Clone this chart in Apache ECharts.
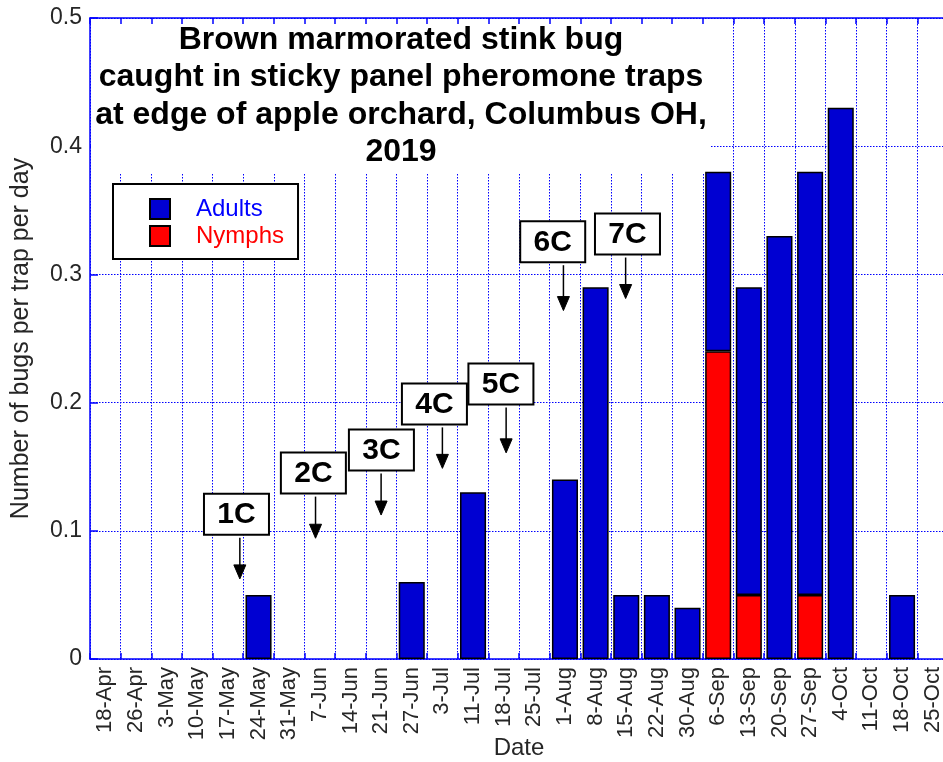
<!DOCTYPE html>
<html>
<head>
<meta charset="utf-8">
<script src="https://cdn.jsdelivr.net/npm/echarts@6/dist/echarts.min.js"></script>
<style>
html,body{margin:0;padding:0;background:#fff;}
#chart{width:943px;height:762px;}
</style>
</head>
<body>
<div id="chart"></div>
<script>
// ---- data ----
const categories = ['18-Apr','26-Apr','3-May','10-May','17-May','24-May','31-May','7-Jun','14-Jun','21-Jun','27-Jun','3-Jul','11-Jul','18-Jul','25-Jul','1-Aug','8-Aug','15-Aug','22-Aug','30-Aug','6-Sep','13-Sep','20-Sep','27-Sep','4-Oct','11-Oct','18-Oct','25-Oct'];
const adultValues = [0,0,0,0,0,0.05,0,0,0,0,0.06,0,0.13,0,0,0.14,0.29,0.05,0.05,0.04,0.14,0.24,0.33,0.33,0.43,0,0.05,0];
const nymphValues = [0,0,0,0,0,0,0,0,0,0,0,0,0,0,0,0,0,0,0,0,0.24,0.05,0,0.05,0,0,0,0];
const yTicks = [0, 0.1, 0.2, 0.3, 0.4, 0.5];

// annotation boxes ("1C".."7C") and arrows, positions in data units (x = fractional category index)
const annotLabels = ['1C','2C','3C','4C','5C','6C','7C'];
const annotBoxX   = [4.28, 6.79, 9.01, 10.74, 12.91, 14.60, 17.04];
const annotBoxY   = [0.113, 0.145, 0.163, 0.199, 0.2145, 0.3255, 0.3315];
const annotArrowX = [4.39, 6.86, 9.00, 11.00, 13.08, 14.95, 16.98];
const annotTipY   = [0.0625, 0.0942, 0.1123, 0.1487, 0.1608, 0.2718, 0.2812];

const titleLines = ['Brown marmorated stink bug','caught in sticky panel pheromone traps','at edge of apple orchard, Columbus OH,','2019'];

const FONT = '"Liberation Sans", Arial, Helvetica, sans-serif';
const AXIS_BLUE = '#0000ff';
const BAR_BLUE = '#0000d2';
const TEXT_GRAY = '#262626';

const toBar = arr => arr.map(v => v === 0 ? '-' : v);

const chart = echarts.init(document.getElementById('chart'), null, {renderer: 'canvas'});

const option = {
  animation: false,
  backgroundColor: '#fff',
  textStyle: {fontFamily: FONT},
  title: {
    text: titleLines.join('\n'),
    left: 401,
    top: 21,
    textAlign: 'center',
    padding: 0,
    textStyle: {fontFamily: FONT, fontSize: 32, fontWeight: 'bold', color: '#000', lineHeight: 37.5}
  },
  graphic: [{
    type: 'rect',
    shape: {x: 91, y: 19, width: 619, height: 154},
    style: {fill: '#fff'},
    z: 1,
    silent: true
  }],
  legend: {
    data: [
      {name: 'Adults', textStyle: {color: '#0000ff'}},
      {name: 'Nymphs', textStyle: {color: '#ff0000'}}
    ],
    orient: 'vertical',
    left: 113,
    top: 184,
    icon: 'rect',
    itemWidth: 20,
    itemHeight: 20,
    itemGap: 3,
    padding: [13, 14, 11, 36],
    borderColor: '#000',
    borderWidth: 2,
    backgroundColor: '#fff',
    selectedMode: false,
    textStyle: {fontFamily: FONT, fontSize: 24, padding: [0, 0, 0, 21], lineHeight: 24}
  },
  grid: {left: 90, top: 18, width: 858, height: 641, containLabel: false, outerBoundsMode: 'none'},
  xAxis: [
    {
      type: 'category',
      data: categories,
      position: 'bottom',
      name: 'Date',
      nameLocation: 'middle',
      nameGap: 77,
      nameMoveOverlap: false,
      nameTextStyle: {fontFamily: FONT, fontSize: 24, color: TEXT_GRAY},
      axisLine: {lineStyle: {color: AXIS_BLUE, width: 1.5}},
      axisTick: {show: true, inside: true, length: 6, lineStyle: {color: AXIS_BLUE, width: 1.5}},
      axisLabel: {interval: 0, rotate: 90, margin: 8, fontFamily: FONT, fontSize: 22, color: TEXT_GRAY},
      splitLine: {show: true, interval: 0, lineStyle: {color: AXIS_BLUE, width: 1, type: [1.5, 1.5]}}
    },
    {
      type: 'category',
      data: categories,
      position: 'top',
      axisLine: {lineStyle: {color: AXIS_BLUE, width: 1.5}},
      axisTick: {show: true, inside: true, length: 6, interval: 0, lineStyle: {color: AXIS_BLUE, width: 1.5}},
      axisLabel: {show: false},
      splitLine: {show: false},
      z: 3
    },
    {
      type: 'value',
      min: -0.5,
      max: categories.length - 0.5,
      show: false
    }
  ],
  yAxis: [{
    type: 'value',
    min: yTicks[0],
    max: yTicks[yTicks.length - 1],
    interval: 0.1,
    name: 'Number of bugs per trap per day',
    nameLocation: 'middle',
    nameGap: 56,
    nameMoveOverlap: false,
    nameTextStyle: {fontFamily: FONT, fontSize: 25, color: TEXT_GRAY},
    axisLine: {show: true, onZero: false, lineStyle: {color: AXIS_BLUE, width: 1.5}},
    axisTick: {show: true, inside: true, length: 8, lineStyle: {color: AXIS_BLUE, width: 1.5}},
    axisLabel: {margin: 8, fontFamily: FONT, fontSize: 23, color: TEXT_GRAY},
    splitLine: {show: true, lineStyle: {color: AXIS_BLUE, width: 1, type: [1.5, 1.5]}}
  }],
  series: [
    {
      name: 'Nymphs',
      type: 'bar',
      stack: 'total',
      xAxisIndex: 0,
      barWidth: '85%',
      data: toBar(nymphValues),
      itemStyle: {color: '#ff0000', borderColor: '#000', borderWidth: 1.5},
      z: 2
    },
    {
      name: 'Adults',
      type: 'bar',
      stack: 'total',
      xAxisIndex: 0,
      barWidth: '85%',
      data: toBar(adultValues),
      itemStyle: {color: BAR_BLUE, borderColor: '#000', borderWidth: 1.5},
      z: 2
    },
    {
      name: 'annotations',
      type: 'custom',
      xAxisIndex: 2,
      yAxisIndex: 0,
      silent: true,
      clip: false,
      z: 10,
      data: annotLabels.map((l, i) => [annotBoxX[i], annotBoxY[i], annotArrowX[i], annotTipY[i], i]),
      renderItem: function (params, api) {
        const idx = api.value(4);
        const b = api.coord([api.value(0), api.value(1)]);
        const t = api.coord([api.value(2), api.value(3)]);
        const w = 65, h = 41;
        const startY = b[1] + h / 2 + 3;
        const ah = 14, aw = 6;
        return {
          type: 'group',
          children: [
            {type: 'rect', shape: {x: b[0] - w / 2, y: b[1] - h / 2, width: w, height: h},
             style: {fill: '#fff', stroke: '#000', lineWidth: 2}},
            {type: 'text', x: b[0], y: b[1] + 1,
             style: {text: annotLabels[idx], fill: '#000', font: 'bold 30px ' + FONT, align: 'center', verticalAlign: 'middle'}},
            {type: 'line', shape: {x1: t[0], y1: startY, x2: t[0], y2: t[1] - ah + 2},
             style: {stroke: '#000', lineWidth: 1.5}},
            {type: 'polygon', shape: {points: [[t[0] - aw, t[1] - ah], [t[0] + aw, t[1] - ah], [t[0], t[1]]]},
             style: {fill: '#000', stroke: '#000', lineWidth: 1}}
          ]
        };
      }
    }
  ]
};
chart.setOption(option);
</script>
</body>
</html>
